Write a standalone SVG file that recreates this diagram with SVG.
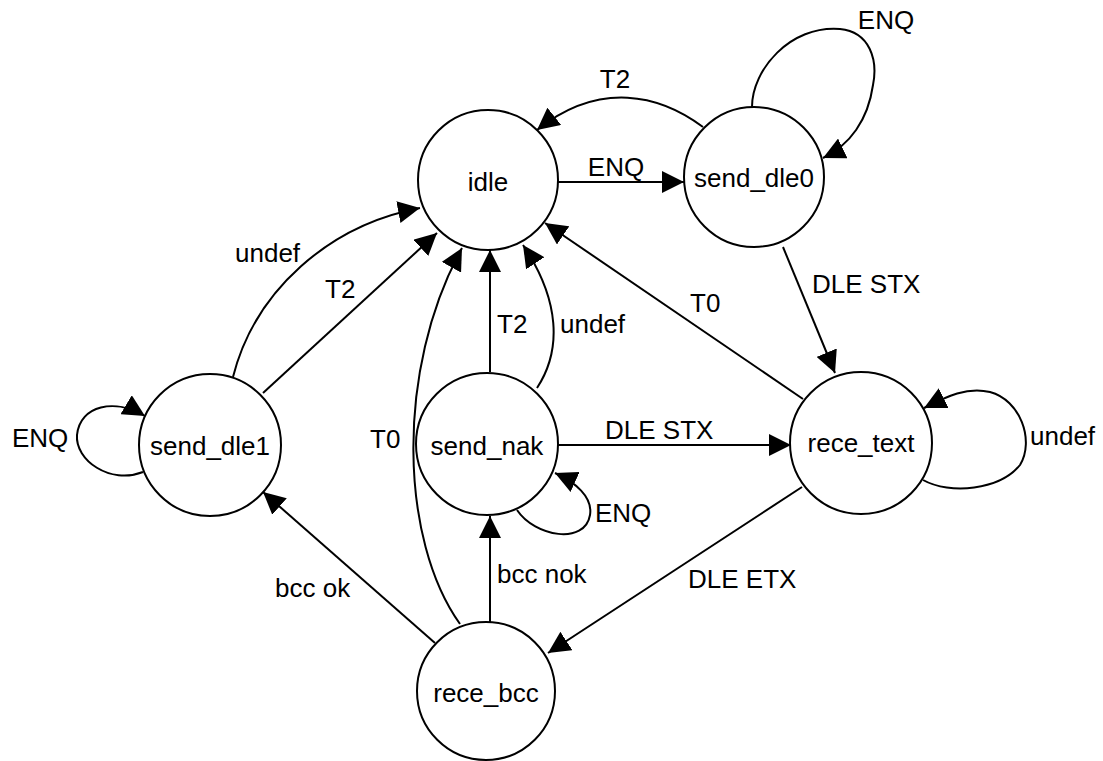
<svg xmlns="http://www.w3.org/2000/svg" width="1103" height="761" viewBox="0 0 1103 761">
<defs>
<marker id="arr" markerUnits="userSpaceOnUse" markerWidth="22" markerHeight="22" refX="22" refY="11" orient="auto">
<path d="M0,0 L22,11 L0,22 z" fill="#000"/>
</marker>
</defs>
<style>
.node circle{fill:#fff;stroke:#000;stroke-width:2}
.node text{font-family:"Liberation Sans",Arial,sans-serif;font-size:26px;text-anchor:middle;fill:#000}
.edge{fill:none;stroke:#000;stroke-width:2;marker-end:url(#arr)}
.lbl{font-family:"Liberation Sans",Arial,sans-serif;font-size:26px;fill:#000}
.mid{text-anchor:middle}
</style>
<rect width="1103" height="761" fill="#fff"/>
<g id="connectors">
<path class="edge" d="M558,182 L684,182"/>
<path class="edge" d="M703,127 C660,95 600,80 537,130"/>
<path class="edge" d="M752,107 C752,70 790,25 840,29 C870,32 878,60 873,85 C868,120 850,145 823,158"/>
<path class="edge" d="M783,247 L835,373"/>
<path class="edge" d="M803,399 L545,223"/>
<path class="edge" d="M923,480 C950,495 1000,490 1020,465 C1035,440 1020,400 990,392 C966,386 944,398 924,408"/>
<path class="edge" d="M557,445 L791,445"/>
<path class="edge" d="M517,510 C535,537 585,545 590,515 C593,497 575,482 555,473"/>
<path class="edge" d="M490,372 L490,250"/>
<path class="edge" d="M537,388 C562,350 560,300 523,245"/>
<path class="edge" d="M233,377 C255,290 330,225 420,208"/>
<path class="edge" d="M263,393 L437,233"/>
<path class="edge" d="M460,624 C400,540 395,370 462,248"/>
<path class="edge" d="M435,643 L263,492"/>
<path class="edge" d="M490,622 L490,516"/>
<path class="edge" d="M802,487 L548,653"/>
<path class="edge" d="M143,472 C110,485 75,460 77,435 C80,405 115,398 145,416"/>
<text class="lbl mid" x="616" y="176">ENQ</text>
<text class="lbl mid" x="615" y="88">T2</text>
<text class="lbl mid" x="886" y="29">ENQ</text>
<text class="lbl" x="812" y="293">DLE STX</text>
<text class="lbl" x="690" y="312">T0</text>
<text class="lbl" x="1030" y="445">undef</text>
<text class="lbl" x="605" y="439">DLE STX</text>
<text class="lbl" x="595" y="522">ENQ</text>
<text class="lbl" x="497" y="333">T2</text>
<text class="lbl" x="560" y="333">undef</text>
<text class="lbl" x="235" y="262">undef</text>
<text class="lbl" x="325" y="298">T2</text>
<text class="lbl" x="370" y="448">T0</text>
<text class="lbl" x="275" y="597">bcc ok</text>
<text class="lbl" x="497" y="583">bcc nok</text>
<text class="lbl" x="688" y="588">DLE ETX</text>
<text class="lbl" x="12" y="447">ENQ</text>
</g>
<g id="idle" class="node"><circle cx="488" cy="180" r="70"/><text x="488" y="191">idle</text></g>
<g id="send_dle0" class="node"><circle cx="754" cy="177" r="70"/><text x="754" y="187">send_dle0</text></g>
<g id="send_dle1" class="node"><circle cx="210" cy="445" r="71"/><text x="210" y="455">send_dle1</text></g>
<g id="send_nak" class="node"><circle cx="487" cy="444" r="71"/><text x="487" y="455">send_nak</text></g>
<g id="rece_text" class="node"><circle cx="861" cy="443" r="71"/><text x="861" y="452">rece_text</text></g>
<g id="rece_bcc" class="node"><circle cx="486" cy="691" r="69"/><text x="486" y="702">rece_bcc</text></g>
</svg>
